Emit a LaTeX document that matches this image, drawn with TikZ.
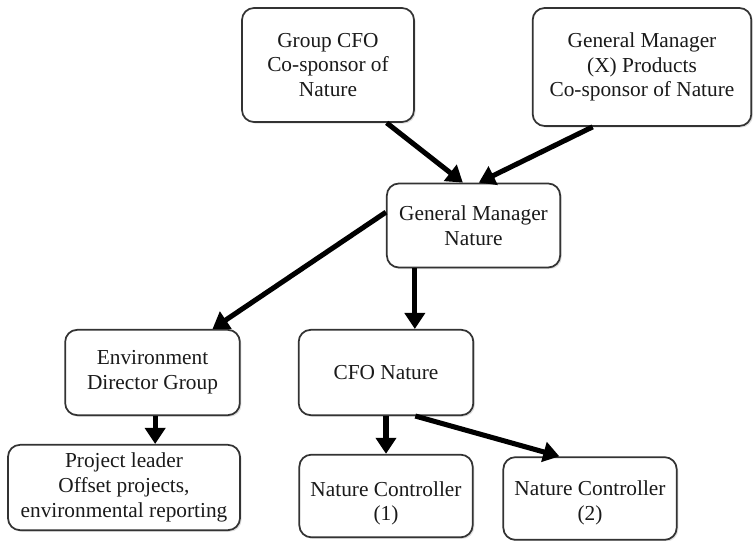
\documentclass[tikz,border=0pt]{standalone}
\usepackage{fontspec}
\setmainfont{Liberation Serif}
\usepackage{xcolor}
\usepackage{tikz}
\usetikzlibrary{arrows.meta,shadows}
\definecolor{orgInk}{HTML}{1A1A1A}
\definecolor{orgLine}{HTML}{333333}
\tikzset{
  org chart/.style={font=\fontsize{16}{18.5}\selectfont, text=orgInk,
    line cap=round, line join=round},
  org box/.style={draw=orgLine, fill=white, line width=1.3pt,
    rounded corners=9pt, align=center, inner sep=2pt,
    drop shadow={opacity=0.25, shadow xshift=1.2pt, shadow yshift=-1.2pt}},
  org arrow/.style={-{Triangle[length=12pt,width=15pt]}, draw=black,
    line width=3.8pt, line cap=butt}
}

\begin{document}
\begin{tikzpicture}[org chart,x=0.75pt,y=-0.75pt]
\useasboundingbox (0,0) rectangle (756,541);
% top row
\node[org box,minimum width=129pt,minimum height=85.5pt] (cfo_group) at (328,65) {Group CFO\\Co-sponsor of\\Nature};
\node[org box,minimum width=164pt,minimum height=88.5pt] (gm_products) at (642,67) {General Manager\\(X) Products\\Co-sponsor of Nature};
% middle
\node[org box,minimum width=130pt,minimum height=63pt] (gm_nature) at (473.5,225.5) {General Manager\\Nature};
\node[org box,minimum width=131pt,minimum height=64pt] (env_dir) at (152.5,372.5) {Environment\\Director Group};
\node[org box,minimum width=131pt,minimum height=64pt] (cfo_nature) at (386,372.5) {CFO Nature};
% bottom row
\node[org box,minimum width=174pt,minimum height=64pt] (proj_leader) at (124,487.5) {Project leader\\Offset projects,\\environmental reporting};
\node[org box,minimum width=130pt,minimum height=62pt] (ctrl_one) at (386,496) {\rule{0pt}{22pt}Nature Controller\\(1)};
\node[org box,minimum width=130pt,minimum height=62pt] (ctrl_two) at (590,498.5) {\rule{0pt}{18pt}Nature Controller\\(2)};
% arrows
\draw[org arrow] ([xshift=44pt]cfo_group.south) -- ([xshift=-8pt]gm_nature.north);
\draw[org arrow] ([xshift=-37pt]gm_products.south) -- ([xshift=4pt]gm_nature.north);
\draw[org arrow] ([yshift=10pt]gm_nature.west) -- ([xshift=45pt]env_dir.north);
\draw[org arrow] ([xshift=-44pt]gm_nature.south) -- ([xshift=-44pt]gm_nature.south |- cfo_nature.north);
\draw[org arrow] ([xshift=2pt]env_dir.south) -- ([xshift=2pt]env_dir.south |- proj_leader.north);
\draw[org arrow] (cfo_nature.south) -- (ctrl_one.north);
\draw[org arrow] ([xshift=22pt]cfo_nature.south) -- ([xshift=-23pt]ctrl_two.north);
\end{tikzpicture}
\end{document}
